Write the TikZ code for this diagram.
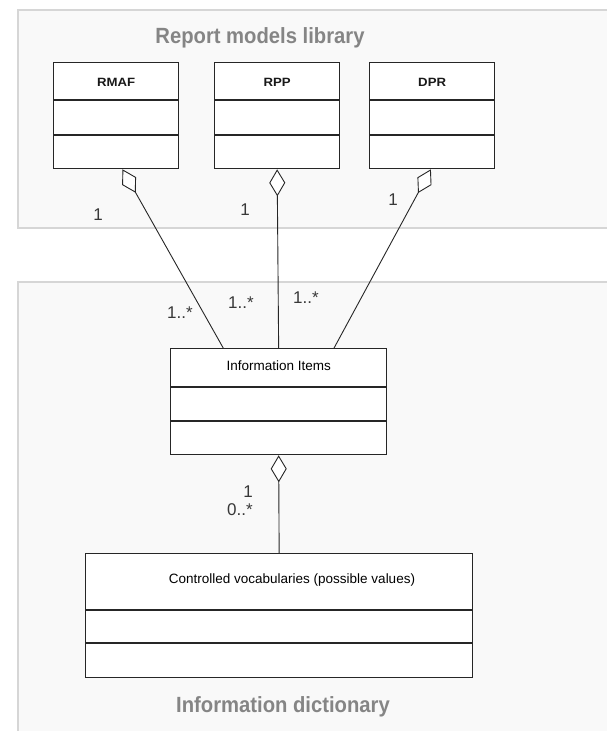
\documentclass[tikz,border=0pt]{standalone}
\usepackage{fontspec}
\setmainfont{Liberation Sans}
\usetikzlibrary{arrows.meta,calc}
\begin{document}
\begin{tikzpicture}[x=1pt,y=-1pt,
  panel/.style={draw=black!16, line width=1.5pt, fill=black!2.5},
  umlbox/.style={draw=black!85, line width=1.3pt, fill=white, inner sep=0pt},
  divider/.style={draw=black!85, line width=1.3pt},
  clsname/.style={font=\fontsize{12}{14}\selectfont\bfseries, text=black!90},
  pkgtitle/.style={font=\fontsize{22}{26}\selectfont\bfseries, text=black!48, xscale=0.92},
  mult/.style={font=\fontsize{17}{20}\selectfont, text=black!78},
  assoc/.style={{Diamond[length=27pt,width=16pt,fill=white]}-, line width=0.9pt, draw=black!85}
]
\useasboundingbox (0,0) rectangle (606,731);

% package frames
\draw[panel] (18,10) rectangle (640,228);
\draw[panel] (18,282) rectangle (640,760);
\node[pkgtitle] (libtitle) at (260,38) {Report models library};
\node[pkgtitle] (dicttitle) at (283,707) {Information dictionary};

% classes of the report models library
\node[umlbox, minimum width=125pt, minimum height=106pt, anchor=north west] (rmaf) at (53,62) {};
\node[umlbox, minimum width=125pt, minimum height=106pt, anchor=north west] (rpp) at (214,62) {};
\node[umlbox, minimum width=125pt, minimum height=106pt, anchor=north west] (dpr) at (369,62) {};
\foreach \b/\t in {rmaf/RMAF, rpp/RPP, dpr/DPR}{
  \draw[divider] ($(\b.north west)+(0,38)$) -- ($(\b.north east)+(0,38)$);
  \draw[divider] ($(\b.north west)+(0,73)$) -- ($(\b.north east)+(0,73)$);
  \node[clsname, xscale=1.1] at ($(\b.north)+(0,20)$) {\t};
}

% information item class
\node[umlbox, minimum width=216pt, minimum height=106pt, anchor=north west] (info) at (170,348) {};
\draw[divider] ($(info.north west)+(0,39)$) -- ($(info.north east)+(0,39)$);
\draw[divider] ($(info.north west)+(0,73)$) -- ($(info.north east)+(0,73)$);
\node[clsname, font=\fontsize{13.5}{16}\selectfont, text=black] (infoname) at ($(info.north)+(0,18)$) {Information Items};

% controlled vocabularies class
\node[umlbox, minimum width=387pt, minimum height=124pt, anchor=north west] (vocab) at (85,553) {};
\draw[divider] ($(vocab.north west)+(0,57)$) -- ($(vocab.north east)+(0,57)$);
\draw[divider] ($(vocab.north west)+(0,90)$) -- ($(vocab.north east)+(0,90)$);
\node[clsname, font=\fontsize{13.5}{16}\selectfont, text=black] (vocabname) at (292,580) {Controlled vocabularies (possible values)};

% aggregations
\draw[assoc] ($(rmaf.south west)!0.55!(rmaf.south east)$) -- ($(info.north west)!0.245!(info.north east)$);
\draw[assoc] (rpp.south) -- (info.north);
\draw[assoc] ($(dpr.south west)!0.49!(dpr.south east)$) -- ($(info.north west)!0.755!(info.north east)$);
\draw[assoc] (info.south) -- (vocab.north);

% multiplicities
\node[mult] (m1) at (98,215) {1};
\node[mult] (m2) at (245,210) {1};
\node[mult] (m3) at (393,200) {1};
\node[mult] (m4) at (180,313) {1..*};
\node[mult] (m5) at (241,303) {1..*};
\node[mult] (m6) at (306,298) {1..*};
\node[mult] (m7) at (248,492) {1};
\node[mult] (m8) at (240,510) {0..*};
\end{tikzpicture}
\end{document}
